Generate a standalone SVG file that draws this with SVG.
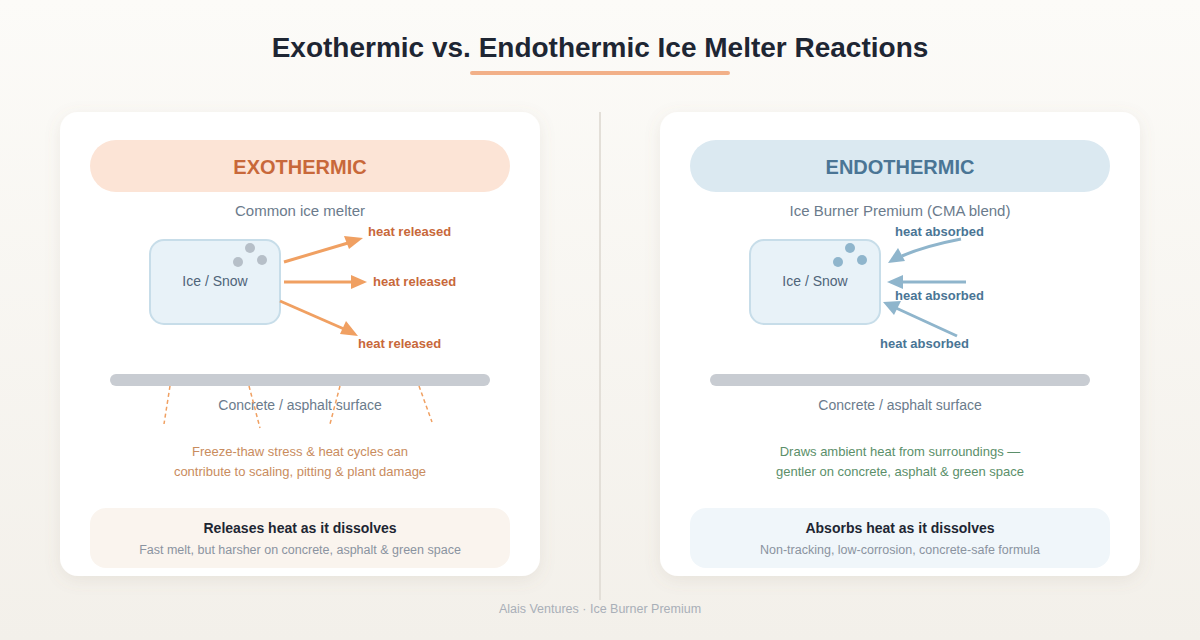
<svg xmlns="http://www.w3.org/2000/svg" width="1200" height="640" viewBox="0 0 1200 640">
<defs>
<linearGradient id="bg" x1="0" y1="0" x2="0" y2="1">
<stop offset="0" stop-color="#fcfbf8"/>
<stop offset="1" stop-color="#f3f0ea"/>
</linearGradient>
<filter id="shadow" x="-10%" y="-10%" width="120%" height="125%">
<feDropShadow dx="0" dy="4" stdDeviation="8" flood-color="#8a7a60" flood-opacity="0.12"/>
</filter>
<style>
text { font-family: "Liberation Sans", Arial, sans-serif; }
.card { fill: #ffffff; filter: url(#shadow); }
.pilltxt { font-size: 20px; font-weight: bold; text-anchor: middle; }
.sub { font-size: 15px; fill: #6b7b8c; text-anchor: middle; }
.ice { fill: #e8f2f8; stroke: #c7dde9; stroke-width: 2; }
.icetxt { font-size: 14px; fill: #4f6479; text-anchor: middle; }
.lbl-o { font-size: 13px; font-weight: bold; fill: #c8683a; }
.lbl-b { font-size: 13px; font-weight: bold; fill: #4a7595; }
.arr-o { stroke: #f0a062; stroke-width: 3; fill: none; }
.arr-b { stroke: #8fb5cc; stroke-width: 3; fill: none; }
.head-o { fill: #f0a062; }
.head-b { fill: #8fb5cc; }
.surface { fill: #c8ccd2; }
.surftxt { font-size: 14px; fill: #6b7b8c; text-anchor: middle; }
.crack { stroke: #f0a062; stroke-width: 1.5; stroke-dasharray: 4 3; fill: none; }
.note { font-size: 13px; text-anchor: middle; }
.boxtitle { font-size: 14px; font-weight: bold; fill: #1e2633; text-anchor: middle; }
.boxsub { font-size: 12.5px; fill: #8a93a0; text-anchor: middle; }
</style>
</defs>
<rect x="0" y="0" width="1200" height="640" fill="url(#bg)"/>

<g id="title">
<text x="600" y="57" text-anchor="middle" font-size="28" font-weight="bold" fill="#1e2633">Exothermic vs. Endothermic Ice Melter Reactions</text>
<line x1="472" y1="73" x2="728" y2="73" stroke="#f2b088" stroke-width="4" stroke-linecap="round"/>
</g>

<line id="divider" x1="600" y1="112" x2="600" y2="600" stroke="#e3dfd8" stroke-width="2"/>

<g id="exo-card">
<rect class="card" x="60" y="112" width="480" height="464" rx="18"/>
<rect x="90" y="140" width="420" height="52" rx="26" fill="#fce4d6"/>
<text class="pilltxt" x="300" y="174" fill="#c8683a">EXOTHERMIC</text>
<text class="sub" x="300" y="216">Common ice melter</text>
</g>

<g id="exo-ice">
<rect class="ice" x="150" y="240" width="130" height="84" rx="14"/>
<text class="icetxt" x="215" y="286">Ice / Snow</text>
<circle cx="250" cy="248" r="5" fill="#b6bfc8"/>
<circle cx="238" cy="262" r="5" fill="#b6bfc8"/>
<circle cx="262" cy="260" r="5" fill="#b6bfc8"/>
</g>

<g id="exo-surface">
<rect class="surface" x="110" y="374" width="380" height="12" rx="6"/>
<text class="surftxt" x="300" y="410">Concrete / asphalt surface</text>
</g>

<g id="exo-note">
<text class="note" x="300" y="456" fill="#c98c5e">Freeze-thaw stress &amp; heat cycles can</text>
<text class="note" x="300" y="476" fill="#c98c5e">contribute to scaling, pitting &amp; plant damage</text>
</g>

<g id="exo-summary">
<rect x="90" y="508" width="420" height="60" rx="16" fill="#faf4ee"/>
<text class="boxtitle" x="300" y="533">Releases heat as it dissolves</text>
<text class="boxsub" x="300" y="554">Fast melt, but harsher on concrete, asphalt &amp; green space</text>
</g>

<g id="endo-card">
<rect class="card" x="660" y="112" width="480" height="464" rx="18"/>
<rect x="690" y="140" width="420" height="52" rx="26" fill="#dbe9f1"/>
<text class="pilltxt" x="900" y="174" fill="#4a7595">ENDOTHERMIC</text>
<text class="sub" x="900" y="216">Ice Burner Premium (CMA blend)</text>
</g>

<g id="endo-ice">
<rect class="ice" x="750" y="240" width="130" height="84" rx="14"/>
<text class="icetxt" x="815" y="286">Ice / Snow</text>
<circle cx="850" cy="248" r="5" fill="#8fb5cc"/>
<circle cx="838" cy="262" r="5" fill="#8fb5cc"/>
<circle cx="862" cy="260" r="5" fill="#8fb5cc"/>
</g>

<g id="endo-surface">
<rect class="surface" x="710" y="374" width="380" height="12" rx="6"/>
<text class="surftxt" x="900" y="410">Concrete / asphalt surface</text>
</g>

<g id="endo-note">
<text class="note" x="900" y="456" fill="#5b8f6a">Draws ambient heat from surroundings —</text>
<text class="note" x="900" y="476" fill="#5b8f6a">gentler on concrete, asphalt &amp; green space</text>
</g>

<g id="endo-summary">
<rect x="690" y="508" width="420" height="60" rx="16" fill="#f0f6fa"/>
<text class="boxtitle" x="900" y="533">Absorbs heat as it dissolves</text>
<text class="boxsub" x="900" y="554">Non-tracking, low-corrosion, concrete-safe formula</text>
</g>

<g id="connectors">
<path class="arr-o" d="M284,262 L348,243"/>
<path class="head-o" d="M363,238 L344,236 L349,249 z"/>
<path class="arr-o" d="M284,282 L352,282"/>
<path class="head-o" d="M367,282 L351,275 L351,289 z"/>
<path class="arr-o" d="M280,301 L344,329"/>
<path class="head-o" d="M358,336 L346,321 L340,334 z"/>

<path class="arr-b" d="M961,239 Q925,246 902,256"/>
<path class="head-b" d="M888,263 L898,248 L905,261 z"/>
<path class="arr-b" d="M966,282 L902,282"/>
<path class="head-b" d="M887,282 L903,275 L903,289 z"/>
<path class="arr-b" d="M957,336 L896,308"/>
<path class="head-b" d="M883,302 L901,301 L894,315 z"/>

<line class="crack" x1="170" y1="386" x2="164" y2="424"/>
<line class="crack" x1="249" y1="386" x2="260" y2="428"/>
<line class="crack" x1="340" y1="386" x2="330" y2="424"/>
<line class="crack" x1="419" y1="386" x2="432" y2="422"/>
</g>

<g id="labels">
<text class="lbl-o" x="368" y="236">heat released</text>
<text class="lbl-o" x="373" y="286">heat released</text>
<text class="lbl-o" x="358" y="348">heat released</text>
<text class="lbl-b" x="895" y="236">heat absorbed</text>
<text class="lbl-b" x="895" y="300">heat absorbed</text>
<text class="lbl-b" x="880" y="348">heat absorbed</text>
</g>

<text id="footer" x="600" y="613" text-anchor="middle" font-size="12.5" fill="#a9afb8">Alais Ventures · Ice Burner Premium</text>
</svg>
